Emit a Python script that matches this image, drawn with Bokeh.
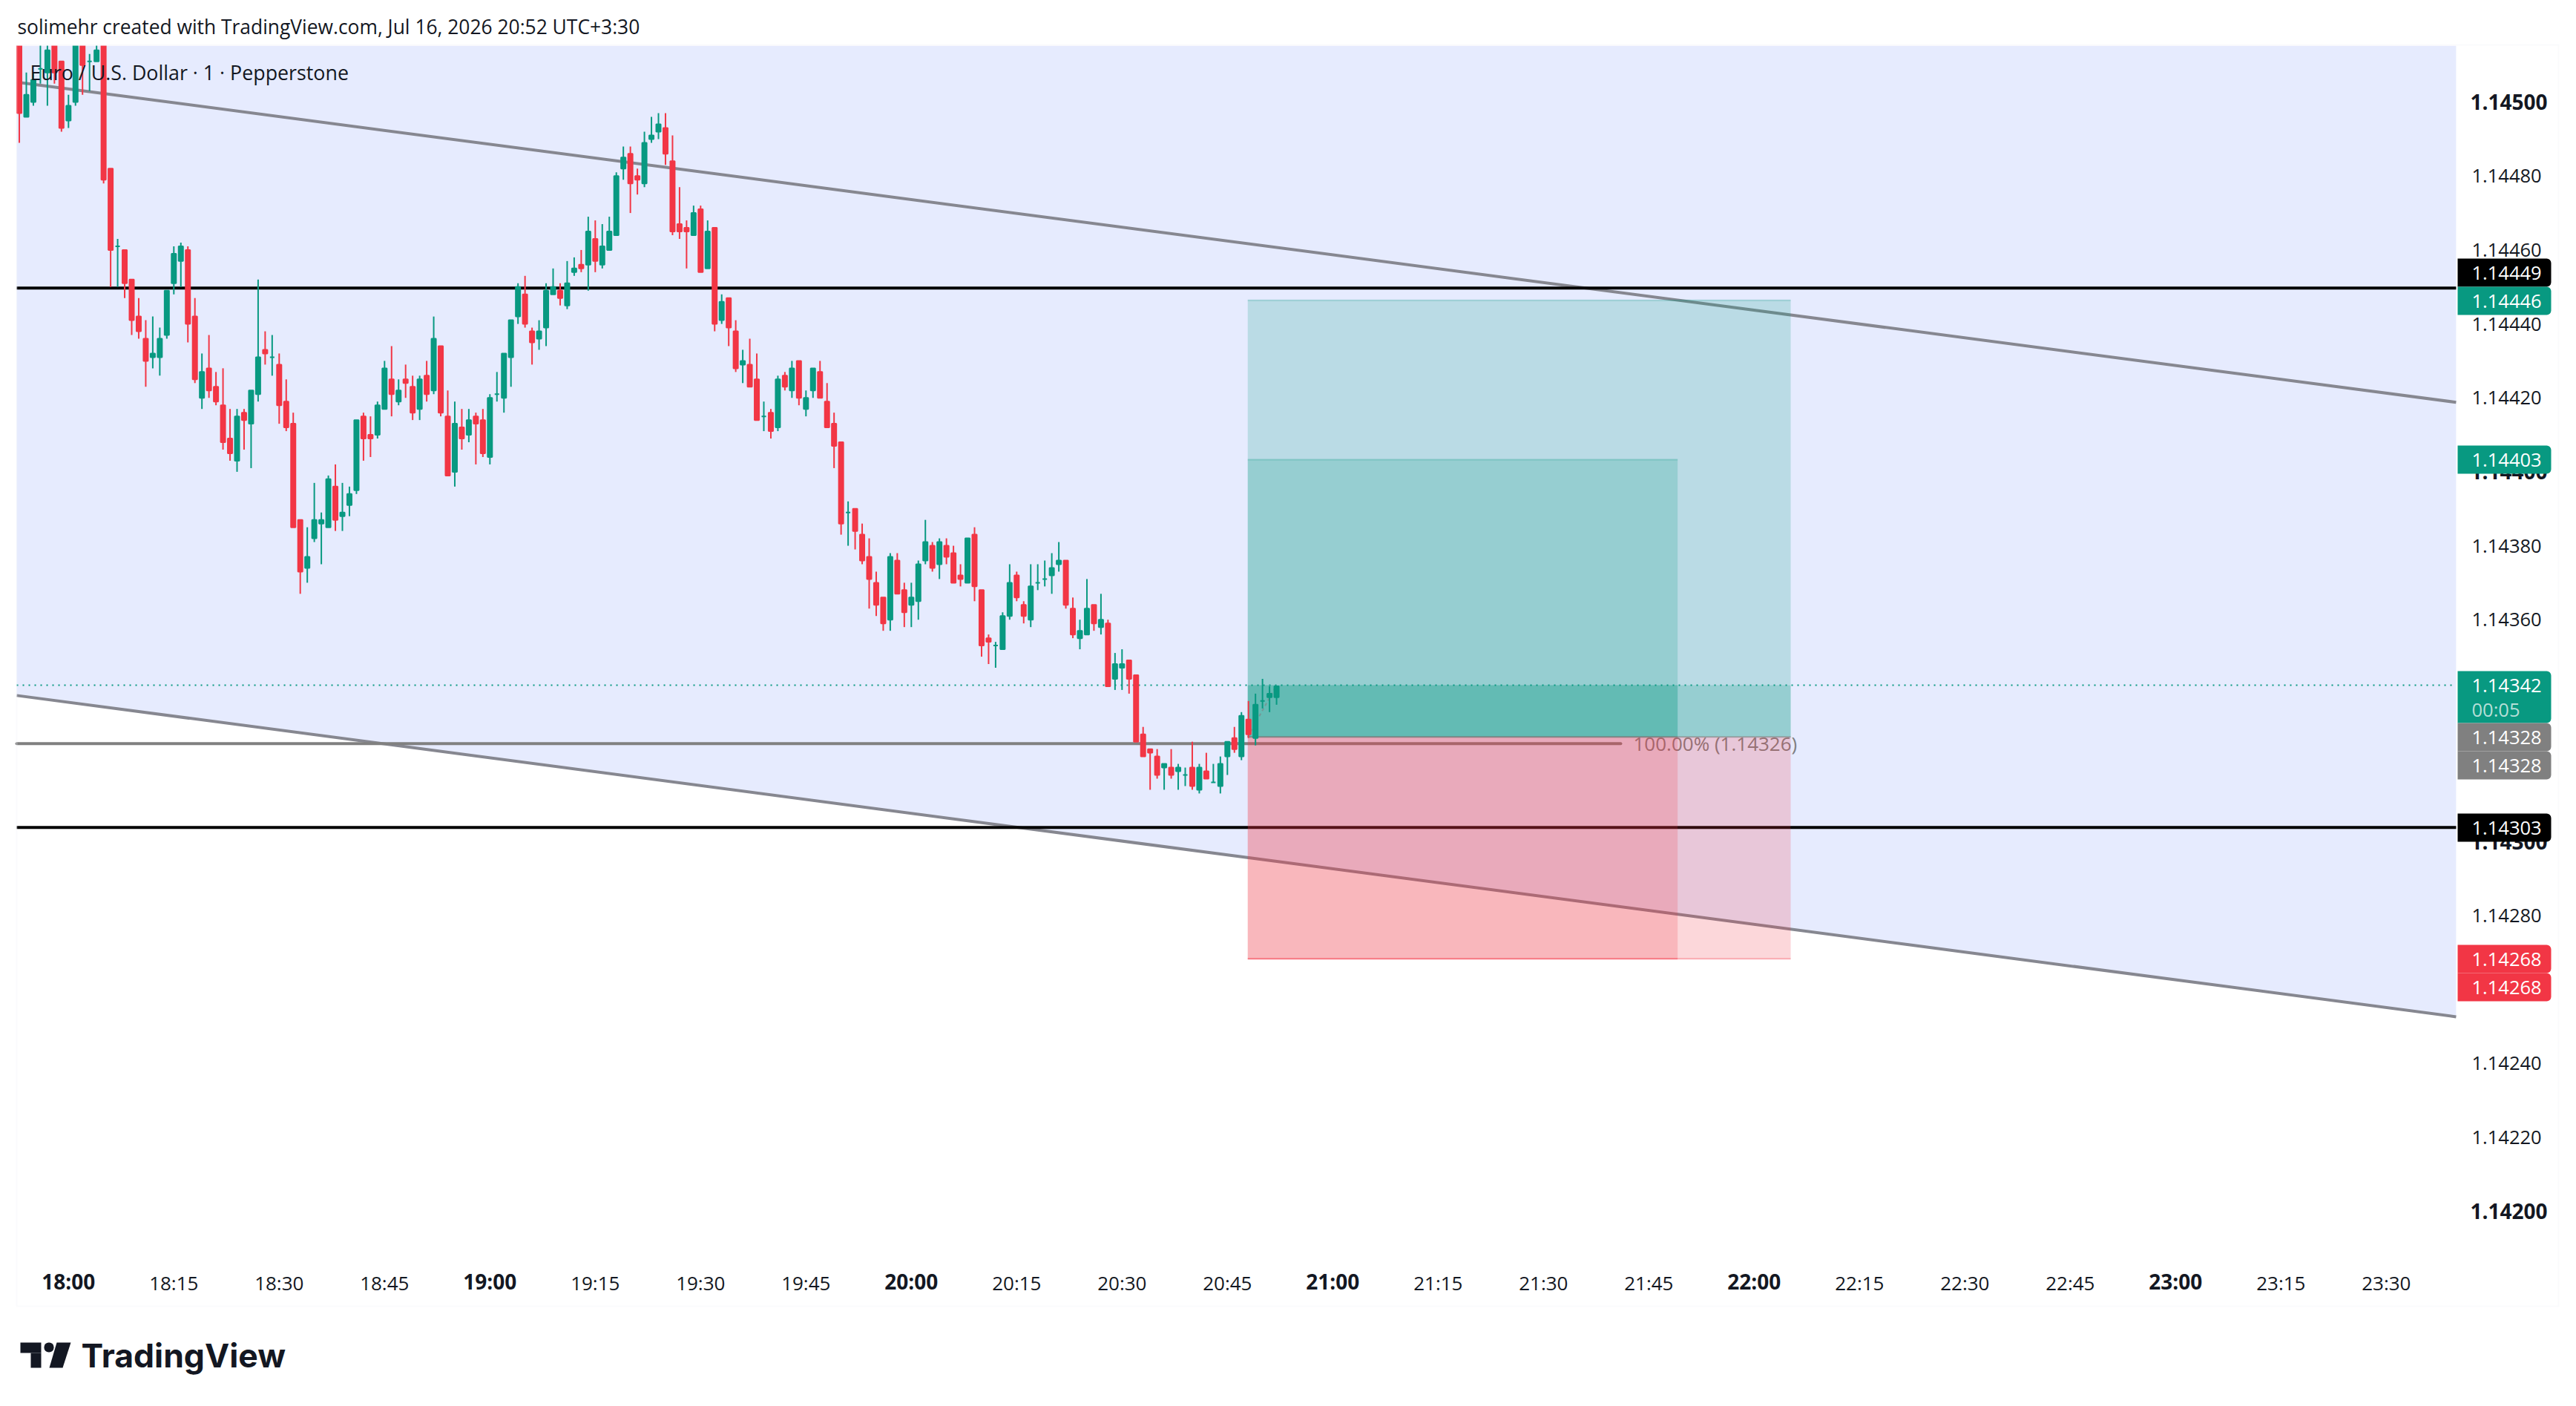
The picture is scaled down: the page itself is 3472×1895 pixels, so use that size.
from bokeh.plotting import figure
from bokeh.models import (BoxAnnotation, ColumnDataSource, FixedTicker, Label, LinearAxis,
                          PolyAnnotation, Range1d)
from bokeh.core.properties import value
from bokeh.embed import file_html
from bokeh.resources import INLINE

# prices are stored as points above 1.14000 (1 point = 0.00001)
minutes = list(range(-7, 173))  # minutes after 18:00
highs = [520,508,508,517,520,518,511,502,518,518,
         513,517,517,482,463,460,452,447,441,442,
         439,449,461,462,461,447,432,437,427,428,
         417,417,417,422,452,438,437,432,425,416,
         387,385,397,389,399,402,397,396,414,416,
         415,419,430,434,425,429,426,426,430,442,
         434,422,419,417,417,416,417,421,427,432,
         441,451,453,439,441,451,455,451,457,458,
         460,469,468,467,469,481,488,488,482,492,
         496,497,497,491,477,468,472,472,468,466,
         448,447,441,433,436,432,419,417,426,427,
         430,430,422,428,430,424,416,408,392,390,
         386,382,373,366,378,378,370,370,376,387,
         381,382,382,380,375,382,385,368,356,354,
         362,375,373,365,375,375,376,378,381,376,
         366,360,371,364,367,360,351,352,349,345,
         331,325,325,321,325,321,320,327,321,324,
         321,323,327,331,335,338,340,344,342,342]
lows = [489,496,499,505,499,505,492,493,499,502,
        503,511,478,450,450,447,437,436,423,428,
        426,436,448,450,435,424,417,420,418,406,
        403,400,406,401,419,429,426,413,411,385,
        367,370,381,375,385,384,384,388,394,403,
        404,409,417,415,418,420,414,414,419,421,
        415,399,396,406,408,402,404,402,419,416,
        423,440,439,429,433,434,448,445,444,453,
        454,449,454,455,460,464,479,470,475,477,
        489,490,483,464,463,455,464,454,455,438,
        440,434,427,424,423,414,411,409,411,422,
        420,418,415,420,420,412,401,383,380,379,
        375,363,361,357,357,367,358,358,360,375,
        373,371,375,370,369,370,365,350,348,347,
        352,360,365,359,358,368,369,367,373,363,
        355,352,356,357,356,342,341,341,340,327,
        323,314,317,314,317,314,315,314,313,317,
        316,313,318,324,322,328,326,336,335,337]
opens = [518,496,500,509,508,516,511,495,500,516,
         511,511,516,482,461,460,452,442,436,431,
         431,437,451,457,460,442,420,428,423,418,
         409,403,416,413,421,433,431,429,419,413,
         387,374,382,386,385,396,388,391,395,415,
         410,410,417,425,419,425,423,417,426,422,
         434,415,400,412,410,415,414,404,421,420,
         431,442,448,438,436,439,448,449,445,454,
         456,456,463,456,460,464,482,486,480,478,
         490,492,493,484,467,466,464,471,455,466,
         441,447,438,429,429,425,415,416,412,426,
         422,430,417,422,427,419,413,408,389,390,
         383,377,370,366,360,376,368,364,365,376,
         380,375,380,378,372,370,383,368,355,353,
         352,361,372,364,360,370,371,372,375,376,
         363,355,356,364,358,359,344,347,349,345,
         329,325,323,320,320,319,318,320,314,319,
         316,315,323,328,323,333,328,338,339,339]
closes = [497,502,506,509,514,508,493,499,516,510,
          511,514,479,460,461,451,441,438,430,432,
          436,449,459,461,440,425,427,422,419,408,
          405,415,414,422,431,432,431,418,412,385,
          373,377,387,387,398,387,389,394,414,409,
          409,418,428,421,422,424,416,425,421,436,
          416,399,413,409,414,413,405,420,421,432,
          441,450,440,435,438,449,450,447,451,455,
          455,465,457,461,465,480,485,478,479,489,
          491,494,486,465,465,465,470,454,465,440,
          446,439,428,430,423,414,415,411,425,423,
          428,420,420,428,420,412,407,386,389,384,
          376,371,364,359,377,367,362,366,375,381,
          374,381,377,370,371,382,369,353,354,353,
          361,370,366,361,369,370,371,374,376,364,
          356,357,363,359,360,342,348,348,344,327,
          323,324,318,321,318,320,318,315,320,317,
          316,321,327,325,334,329,337,338,340,342]

channel_minutes = [-7.37, 339.94]
channel_upper = [505.4, 418.8]
channel_lower = [339.5, 252.6]
level_lines = [449.7, 303.8]
fib_minutes = [-7.37, 221.0]
fib_price = 326.5
fib_text = "100.00% (1.14326)"
last_price = 342.3
pos_left = 167.9
pos_right = [245.2, 229.1]
pos_tp = [446.4, 403.3]
pos_entry = 328.3
pos_sl = [268.3, 268.3]

y_ticks_regular = [1.14480, 1.14460, 1.14440, 1.14420, 1.14380, 1.14360, 1.14340, 1.14320,
                   1.14280, 1.14260, 1.14240, 1.14220]
y_ticks_bold = [1.14500, 1.14400, 1.14300, 1.14200]
x_labels = {0: "18:00", 15: "18:15", 30: "18:30", 45: "18:45", 60: "19:00", 75: "19:15",
            90: "19:30", 105: "19:45", 120: "20:00", 135: "20:15", 150: "20:30", 165: "20:45",
            180: "21:00", 195: "21:15", 210: "21:30", 225: "21:45", 240: "22:00", 255: "22:15",
            270: "22:30", 285: "22:45", 300: "23:00", 315: "23:15", 330: "23:30"}
x_bold = [0, 60, 120, 180, 240, 300]

header_text = "solimehr created with TradingView.com, Jul 16, 2026 20:52 UTC+3:30"
title_text = "Euro / U.S. Dollar · 1 · Pepperstone"
logo_text = "TradingView"

# price pills of the right scale: text, colour, top and bottom of the pill on the page
pill_text = ["1.14449", "1.14446", "1.14403", "1.14342", "1.14328", "1.14328", "1.14303", "1.14268", "1.14268"]
pill_color = ["#000000", "#089981", "#089981", "#089981", "#808080", "#808080", "#000000", "#F23645", "#F23645"]
pill_top = [348, 386, 600, 904, 974, 1012, 1096, 1273, 1311]
pill_bottom = [386, 424, 638, 974, 1012, 1050, 1134, 1311, 1349]

GREEN, RED = "#089981", "#F23645"
INK = "#131722"
FONT = "Open Sans"
BASE, POINT = 1.14, 1e-5


def price(v):
    return BASE + v * POINT


# page geometry: the plot frame fills the whole figure, the axes sit at fixed places in it
FIG_W, FIG_H = 3464, 1887
PANE_L, PANE_R, PANE_T, PANE_B = 22, 3310, 61, 1705
PX_PER_MIN = 9.4667
X0 = 91.8
Y_1145, PX_PER_PRICE = 137.1, 498300.0


def xd(px):
    return (px - X0) / PX_PER_MIN


def yd(py):
    return 1.145 - (py - Y_1145) / PX_PER_PRICE


p = figure(width=FIG_W, height=FIG_H, output_backend="svg", toolbar_location=None,
           x_range=Range1d(xd(0), xd(FIG_W)), y_range=Range1d(yd(FIG_H), yd(0)),
           x_axis_type=None, y_axis_type=None,
           min_border_left=0, min_border_right=0, min_border_top=0, min_border_bottom=0)
p.outline_line_color = None
p.grid.visible = False
p.background_fill_color = "#FFFFFF"
p.border_fill_color = "#FFFFFF"


def make_axis(where, ticks, bold, standoff, location, size, overrides=None):
    ax = LinearAxis(ticker=FixedTicker(ticks=ticks), fixed_location=location)
    ax.axis_line_color = None
    ax.major_tick_line_color = None
    ax.minor_tick_line_color = None
    ax.major_tick_out = 0
    ax.major_tick_in = 0
    ax.major_label_standoff = standoff
    ax.major_label_text_font = FONT
    ax.major_label_text_font_size = size
    ax.major_label_text_font_style = "bold" if bold else "normal"
    ax.major_label_text_color = INK
    if overrides:
        ax.major_label_overrides = overrides
    p.add_layout(ax, where)
    return ax


fmt = {t: f"{t:.5f}" for t in y_ticks_regular + y_ticks_bold}
make_axis("right", y_ticks_regular, False, 21, xd(PANE_R), "25.5px", fmt)
make_axis("right", y_ticks_bold, True, 19, xd(PANE_R), "28px", fmt)
make_axis("below", [m for m in x_labels if m not in x_bold], False, 5, yd(PANE_B), "26px", x_labels)
make_axis("below", x_bold, True, 2, yd(PANE_B), "28px", x_labels)

# channel
p.varea(x=channel_minutes, y1=[price(v) for v in channel_lower],
        y2=[yd(PANE_T), yd(PANE_T)], fill_color="#E6EBFE")
for series in (channel_upper, channel_lower):
    p.line(channel_minutes, [price(v) for v in series], line_color="#868790", line_width=4)

# horizontal levels
for lv in level_lines:
    p.line(channel_minutes, [price(lv), price(lv)], line_color="#000000", line_width=4)
p.line(fib_minutes, [price(fib_price), price(fib_price)], line_color="#808080", line_width=4,
       line_cap="round")
p.text(x=[xd(2201)], y=[price(fib_price)], text=[fib_text], text_font=value(FONT), text_font_size="26px",
       text_color="#808080", text_baseline="middle", text_align="left")

# long positions
for right, tp, sl in zip(pos_right, pos_tp, pos_sl):
    p.quad(left=[pos_left], right=[right], top=[price(tp)], bottom=[price(pos_entry)],
           fill_color=GREEN, fill_alpha=0.2, line_color=None)
    p.quad(left=[pos_left], right=[right], top=[price(last_price)], bottom=[price(pos_entry)],
           fill_color=GREEN, fill_alpha=0.2, line_color=None)
    p.quad(left=[pos_left], right=[right], top=[price(pos_entry)], bottom=[price(sl)],
           fill_color=RED, fill_alpha=0.2, line_color=None)
    p.line([pos_left, right], [price(tp), price(tp)], line_color=GREEN, line_width=2, line_alpha=0.25)
    p.line([pos_left, right], [price(sl), price(sl)], line_color=RED, line_width=2, line_alpha=0.35)
    p.line([pos_left, right], [price(pos_entry), price(pos_entry)], line_color="#808080", line_width=2,
           line_alpha=0.6)
p.line([pos_left, minutes[-1]], [price(pos_entry), price(last_price)], line_color="#808080", line_width=2,
       line_alpha=0.6, line_dash="4 4")

# current-price line
p.line(channel_minutes, [price(last_price)] * 2, line_color=GREEN, line_width=2, line_dash="2 6")

# candles
for col, keep in ((GREEN, lambda o, c: c >= o), (RED, lambda o, c: c < o)):
    rows = [(m, h, l, o, c) for m, h, l, o, c in zip(minutes, highs, lows, opens, closes) if keep(o, c)]
    src = ColumnDataSource(dict(
        x=[r[0] for r in rows], high=[price(r[1]) for r in rows], low=[price(r[2]) for r in rows],
        top=[price(max(r[3], r[4])) for r in rows], bottom=[price(min(r[3], r[4])) for r in rows]))
    p.segment(x0="x", x1="x", y0="low", y1="high", source=src, line_color=col, line_width=2)
    p.vbar(x="x", width=0.634, top="top", bottom="bottom", source=src, fill_color=col,
           line_color=col, line_width=2)


def box(l, r, t, b, fill=None, line=None, radius=0, level="annotation"):
    p.add_layout(BoxAnnotation(left=l, right=r, top=t, bottom=b, left_units="canvas", right_units="canvas",
                               top_units="canvas", bottom_units="canvas", fill_color=fill,
                               fill_alpha=1 if fill else 0, line_color=line, line_width=2,
                               border_radius=radius, level=level, editable=False))


# white band that trims the candles at the pane's top edge, and the outer hairline border
box(0, FIG_W, 0, PANE_T, fill="#FFFFFF")
box(22, 3448, 60, 1760, line="#F0F1F5")


def text(x, y, s, size=25, color=INK, style="normal", font=FONT, align="left"):
    p.add_layout(Label(x=x, y=y, x_units="canvas", y_units="canvas", text=s, text_font=font,
                       text_font_size=f"{size}px", text_color=color, text_font_style=style,
                       text_baseline="middle", text_align=align))


text(40, 97, title_text, 26.8)
text(23, 35, header_text, 26.4)

# price pills
for s, col, t, b in zip(pill_text, pill_color, pill_top, pill_bottom):
    box(3312, 3438, t, b, fill=col, radius=(0, 6, 6, 0))
    text(3331, t + 19, s, 25.5, "#FFFFFF")
text(3331, 955, "00:05", 25.5, "#B5DFD7")

# logo
box(27, 55, 1809, 1823, fill=INK)
box(41, 55, 1823, 1843, fill=INK)
box(59, 72, 1809, 1822, fill=INK, radius=6)
p.add_layout(PolyAnnotation(xs=[76, 95, 84, 66], ys=[1809, 1809, 1843, 1843], xs_units="canvas", ys_units="canvas",
                            fill_color=INK, fill_alpha=1, line_color=None))
text(109, 1826, logo_text, 44.5, INK, "bold", "Inter")

open("out.html", "w").write(file_html(p, INLINE))
